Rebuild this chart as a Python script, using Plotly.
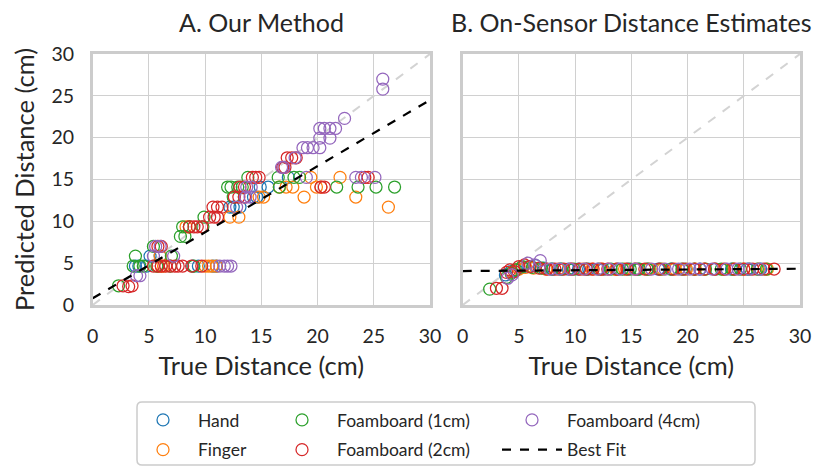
import plotly.graph_objects as go

# ---------------- data ----------------
series_names = ["Hand", "Finger", "Foamboard (1cm)", "Foamboard (2cm)", "Foamboard (4cm)"]
series_colors = ["#1f77b4", "#ff7f0e", "#2ca02c", "#d62728", "#9467bd"]

# Panel A: our method
hand_a_x = [3.8, 4.1, 4.8, 5.1, 6.0, 8.9, 9.4, 10.7, 11.0, 12.2, 12.5, 13.1, 14.3, 14.6, 14.9, 15.6, 17.4]
hand_a_y = [4.66, 4.66, 4.66, 5.85, 5.85, 4.66, 4.66, 4.66, 4.66, 11.7, 11.7, 11.7, 12.9, 12.9, 14.1, 14.1, 15.25]

finger_a_x = [5.8, 6.1, 6.3, 6.0, 8.3, 8.6, 10.0, 10.3, 10.6, 11.0, 12.2, 13.0, 14.8, 15.2, 16.6, 17.2, 17.8,
              18.8, 19.4, 19.9, 20.3, 22.0, 23.4, 26.3]
finger_a_y = [4.66, 4.66, 4.66, 5.85, 9.35, 9.35, 4.66, 4.66, 4.66, 4.66, 10.5, 10.5, 12.9, 12.9, 14.1, 14.1, 14.1,
              12.9, 15.25, 14.1, 14.1, 15.25, 12.9, 11.7]

foam1_a_x = [2.3, 3.6, 3.8, 4.2, 4.5, 5.4, 5.7, 6.9, 7.0, 7.8, 8.0, 8.2, 8.6, 9.0, 9.8, 9.9, 12.0, 12.3, 12.5,
             12.9, 13.3, 13.8, 16.5, 16.6, 17.9, 18.4, 21.7, 23.6, 25.2, 26.85]
foam1_a_y = [2.3, 4.66, 5.85, 4.66, 4.66, 7.0, 4.66, 4.66, 5.85, 8.2, 9.35, 8.2, 9.35, 4.66, 9.35, 10.5, 14.1, 14.1,
             12.9, 14.1, 14.1, 15.25, 15.25, 14.1, 15.25, 15.25, 14.1, 14.1, 14.1, 14.1]

foam2_a_x = [2.7, 3.2, 3.5, 5.4, 5.8, 6.1, 6.5, 6.9, 7.3, 7.6, 8.0, 8.8, 9.7, 5.8, 6.1, 8.6, 9.0, 9.3, 9.7, 10.4,
             10.8, 11.1, 10.7, 11.1, 11.5, 12.6, 13.0, 13.5, 13.1, 13.5, 14.2, 14.5, 14.8, 16.9, 17.1, 17.3, 17.7,
             18.1, 20.3, 20.6, 24.2, 24.5]
foam2_a_y = [2.3, 2.2, 2.3, 4.66, 4.66, 4.66, 4.66, 4.66, 4.66, 4.66, 4.66, 4.66, 4.66, 7.0, 7.0, 9.35, 9.35, 9.35,
             9.35, 10.5, 10.5, 10.5, 11.7, 11.7, 11.7, 12.9, 12.9, 12.9, 14.1, 14.1, 15.25, 15.25, 15.25, 16.45,
             16.45, 17.6, 17.6, 17.6, 14.1, 14.1, 15.25, 15.25]

foam4_a_x = [3.9, 4.2, 5.4, 5.6, 6.0, 7.2, 11.3, 11.7, 12.0, 12.3, 12.8, 13.6, 14.0, 13.7, 14.1, 16.8, 17.0, 18.0,
             18.7, 19.1, 19.6, 20.2, 20.2, 21.1, 20.2, 20.6, 21.1, 21.6, 22.4, 25.8, 25.8, 19.0, 23.4, 23.9, 25.1]
foam4_a_y = [3.5, 3.5, 5.85, 7.0, 7.0, 5.85, 4.66, 4.66, 4.66, 4.66, 11.7, 12.9, 12.9, 14.1, 14.1, 16.45, 16.45,
             17.6, 18.8, 18.8, 18.8, 18.8, 19.95, 19.95, 21.1, 21.1, 21.1, 21.1, 22.3, 25.8, 27.0, 15.25, 15.25,
             15.25, 15.25]

# Panel B: on-sensor estimates
hand_b_x = [3.8, 4.3, 4.8, 5.3, 5.9, 6.5, 7.2, 8.0, 8.7, 9.4, 10.3, 11.2, 12.5, 13.8, 14.7, 15.6, 16.5, 17.4,
            18.6, 19.8, 21.1, 22.5, 23.9, 25.3, 26.5]
hand_b_y = [3.6, 4.0, 4.2, 4.5, 4.6, 4.7, 4.4, 4.3, 4.3, 4.3, 4.3, 4.3, 4.25, 4.3, 4.3, 4.3, 4.3, 4.3, 4.3, 4.3,
            4.3, 4.3, 4.3, 4.3, 4.3]

finger_b_x = [4.4, 5.0, 5.6, 6.3, 7.4, 8.5, 9.6, 10.7, 11.5, 12.4, 13.6, 14.4, 15.3, 16.6, 17.8, 18.9, 19.9,
              20.7, 21.5, 22.4, 23.2, 24.1, 25.0, 26.3, 27.1]
finger_b_y = [3.9, 4.3, 4.5, 4.4, 4.3, 4.3, 4.3, 4.3, 4.3, 4.3, 4.25, 4.3, 4.3, 4.3, 4.3, 4.3, 4.3, 4.3, 4.3,
              4.3, 4.25, 4.3, 4.3, 4.3, 4.3]

foam1_b_x = [2.4, 3.9, 4.3, 4.7, 5.3, 6.2, 7.0, 7.9, 8.8, 9.9, 11.0, 12.1, 13.2, 14.2, 14.9, 15.7, 16.4, 17.6,
             18.5, 19.5, 20.6, 21.6, 23.0, 24.0, 24.7, 25.5, 26.2, 27.0]
foam1_b_y = [1.9, 3.3, 3.8, 4.2, 4.6, 4.5, 4.4, 4.3, 4.3, 4.3, 4.3, 4.3, 4.3, 4.3, 4.3, 4.3, 4.3, 4.3, 4.3, 4.3,
             4.3, 4.3, 4.3, 4.3, 4.3, 4.3, 4.3, 4.3]

foam2_b_x = [3.0, 3.5, 3.9, 4.2, 4.6, 5.0, 5.5, 6.0, 6.8, 7.5, 8.2, 9.0, 9.7, 10.4, 11.0, 11.6, 12.3, 12.9, 13.7,
             14.6, 15.4, 16.2, 17.5, 18.7, 19.6, 20.6, 21.5, 22.4, 23.3, 24.2, 25.0, 25.8, 26.8, 27.7]
foam2_b_y = [2.0, 2.0, 3.9, 4.2, 4.0, 4.6, 4.8, 4.6, 4.4, 4.3, 4.3, 4.3, 4.3, 4.3, 4.3, 4.3, 4.3, 4.3, 4.3, 4.3,
             4.3, 4.3, 4.3, 4.3, 4.3, 4.3, 4.3, 4.3, 4.3, 4.3, 4.3, 4.3, 4.3, 4.3]

foam4_b_x = [4.0, 4.4, 5.8, 6.4, 6.9, 7.8, 8.6, 9.6, 10.8, 12.0, 13.0, 14.0, 15.3, 16.8, 18.0, 19.2, 20.2, 21.1,
             22.2, 23.5, 24.5, 25.5, 26.4]
foam4_b_y = [3.2, 3.6, 5.0, 4.8, 5.3, 4.3, 4.3, 4.3, 4.3, 4.3, 4.3, 4.3, 4.3, 4.3, 4.3, 4.3, 4.3, 4.3, 4.3, 4.3,
             4.3, 4.3, 4.3]

# best-fit lines (slope, intercept) and identity reference
fit_a = (0.79, 0.8)
fit_b = (0.0093, 4.06)
fit_x = [0, 30]
axis_range = [0, 30]
tick_vals = [0, 5, 10, 15, 20, 25, 30]

panel_titles = ["A. Our Method", "B. On-Sensor Distance Estimates"]
x_title = "True Distance (cm)"
y_title = "Predicted Distance (cm)"

# ---------------- figure ----------------
W, H = 818, 468
FONT = "Lato"
TXT = "#262626"

def px_x(p):
    return p / W

def px_y(p):
    return 1 - p / H

fig = go.Figure()

a_data = [(hand_a_x, hand_a_y), (finger_a_x, finger_a_y), (foam1_a_x, foam1_a_y),
          (foam2_a_x, foam2_a_y), (foam4_a_x, foam4_a_y)]
b_data = [(hand_b_x, hand_b_y), (finger_b_x, finger_b_y), (foam1_b_x, foam1_b_y),
          (foam2_b_x, foam2_b_y), (foam4_b_x, foam4_b_y)]
legend_ids = ["legend", "legend", "legend2", "legend2", "legend3"]

for xa, ya in [("x", "y"), ("x2", "y2")]:
    fig.add_trace(go.Scatter(x=fit_x, y=fit_x, mode="lines", xaxis=xa, yaxis=ya,
                             line=dict(color="#d3d3d3", width=2, dash="dash"),
                             showlegend=False, hoverinfo="skip"))

MARKER_SIZE = 12
for i, name in enumerate(series_names):
    xs, ys = a_data[i]
    fig.add_trace(go.Scatter(x=xs, y=ys, mode="markers", name=name, xaxis="x", yaxis="y",
                             marker=dict(symbol="circle-open", size=MARKER_SIZE, color=series_colors[i],
                                         line=dict(width=1.25)),
                             legend=legend_ids[i], legendgroup=name))
    xs, ys = b_data[i]
    fig.add_trace(go.Scatter(x=xs, y=ys, mode="markers", name=name, xaxis="x2", yaxis="y2",
                             marker=dict(symbol="circle-open", size=MARKER_SIZE, color=series_colors[i],
                                         line=dict(width=1.25)),
                             showlegend=False, legendgroup=name))

for (slope, icpt), xa, ya, show in [(fit_a, "x", "y", True), (fit_b, "x2", "y2", False)]:
    fig.add_trace(go.Scatter(x=fit_x, y=[slope * v + icpt for v in fit_x], mode="lines",
                             name="Best Fit", xaxis=xa, yaxis=ya,
                             line=dict(color="black", width=2.2, dash="dash"),
                             showlegend=show, legend="legend3", legendgroup="fit"))

axis_common = dict(range=axis_range, tickvals=tick_vals, showgrid=True, gridcolor="#d0d0d0",
                   gridwidth=1.3, zeroline=False, showline=True, mirror=True, linecolor="#cccccc",
                   linewidth=2.5, ticks="", ticklabelstandoff=12,
                   tickfont=dict(family=FONT, size=19.5, color=TXT))

TITLE_FONT = dict(size=25.5, family=FONT, color=TXT)
xd1 = [px_x(92.7), px_x(430)]
xd2 = [px_x(462.7), px_x(800)]
yd = [px_y(305), px_y(54)]

fig.update_layout(
    width=W, height=H, margin=dict(l=0, r=0, t=0, b=0),
    template="none", paper_bgcolor="white", plot_bgcolor="white",
    font=dict(family=FONT, color=TXT),
    xaxis=dict(domain=xd1, anchor="y", title=dict(text=x_title, font=TITLE_FONT, standoff=11), **axis_common),
    xaxis2=dict(domain=xd2, anchor="y2", title=dict(text=x_title, font=TITLE_FONT, standoff=11), **axis_common),
    yaxis=dict(domain=yd, anchor="x", title=dict(text=y_title, font=TITLE_FONT, standoff=10), **axis_common),
    yaxis2=dict(domain=yd, anchor="x2", matches="y", showticklabels=False, **axis_common),
    showlegend=True,
)

leg_common = dict(orientation="v", xanchor="left", yanchor="top", itemwidth=60, borderwidth=0,
                  bgcolor="rgba(0,0,0,0)", tracegroupgap=4,
                  font=dict(family=FONT, size=17.5, color=TXT))
fig.update_layout(
    legend=dict(x=px_x(163 - 35), y=px_y(402), **leg_common),
    legend2=dict(x=px_x(302 - 35), y=px_y(402), **leg_common),
    legend3=dict(x=px_x(532 - 35), y=px_y(402), **leg_common),
)

# legend frame
x0, x1, y0, y1, r = 137, 755, 402, 465, 5
path = (f"M {px_x(x0 + r)},{px_y(y0)} L {px_x(x1 - r)},{px_y(y0)} "
        f"Q {px_x(x1)},{px_y(y0)} {px_x(x1)},{px_y(y0 + r)} L {px_x(x1)},{px_y(y1 - r)} "
        f"Q {px_x(x1)},{px_y(y1)} {px_x(x1 - r)},{px_y(y1)} L {px_x(x0 + r)},{px_y(y1)} "
        f"Q {px_x(x0)},{px_y(y1)} {px_x(x0)},{px_y(y1 - r)} L {px_x(x0)},{px_y(y0 + r)} "
        f"Q {px_x(x0)},{px_y(y0)} {px_x(x0 + r)},{px_y(y0)} Z")
fig.add_shape(type="path", path=path, xref="paper", yref="paper",
              line=dict(color="#cccccc", width=1.5), fillcolor="rgba(0,0,0,0)")

for title, xd in zip(panel_titles, [xd1, xd2]):
    fig.add_annotation(text=title, x=(xd[0] + xd[1]) / 2, y=px_y(22), xref="paper", yref="paper",
                       showarrow=False, xanchor="center", yanchor="middle",
                       font=dict(family=FONT, size=25, color=TXT))

fig.write_html("out.html")
